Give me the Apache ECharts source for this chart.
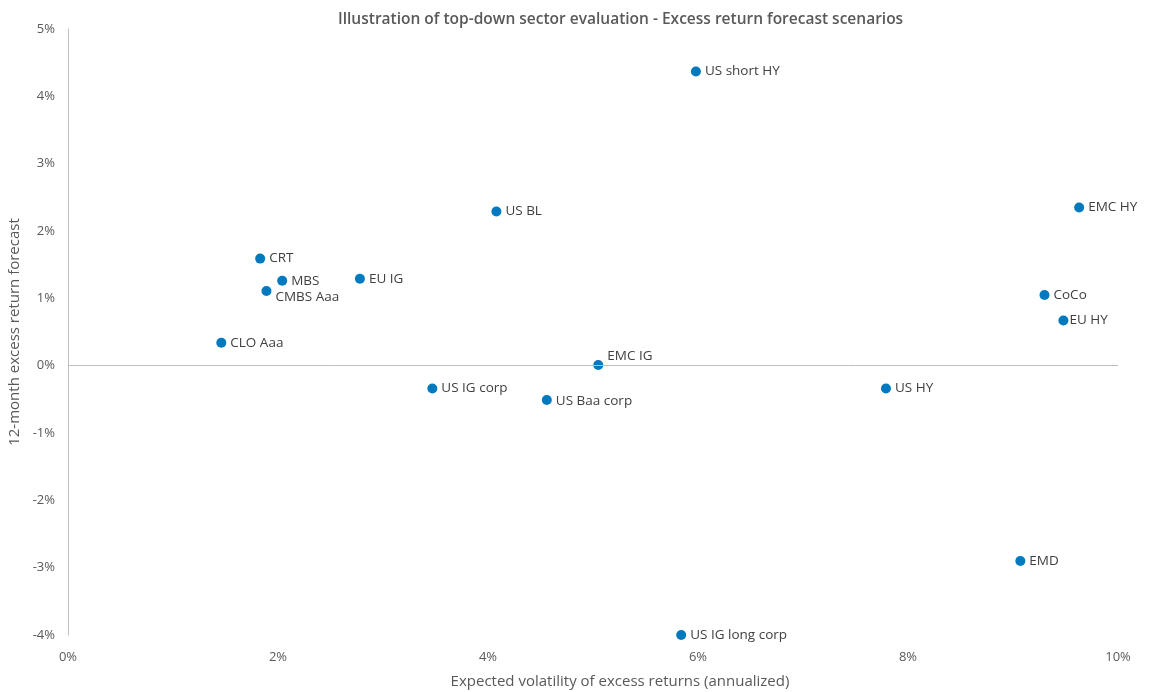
<!DOCTYPE html>
<html>
<head>
<meta charset="utf-8">
<script src="https://cdn.jsdelivr.net/npm/echarts@6/dist/echarts.min.js"></script>
<style>
  html, body { margin: 0; padding: 0; background: #fff; }
  #chart { width: 1160px; height: 692px; }
</style>
</head>
<body>
<div id="chart"></div>
<script>
// Sector names with expected volatility (x, %) and 12-month excess return forecast (y, %)
const sectors = ['US short HY', 'US BL', 'EMC HY', 'CRT', 'MBS', 'EU IG', 'CMBS Aaa', 'CoCo',
  'EU HY', 'CLO Aaa', 'EMC IG', 'US IG corp', 'US Baa corp', 'US HY', 'EMD', 'US IG long corp'];
const volatility = [5.98, 4.08, 9.63, 1.83, 2.04, 2.78, 1.89, 9.30,
  9.48, 1.46, 5.05, 3.47, 4.56, 7.79, 9.07, 5.84];
const excessReturn = [4.37, 2.29, 2.35, 1.59, 1.26, 1.29, 1.11, 1.05,
  0.67, 0.34, 0.01, -0.34, -0.51, -0.34, -2.90, -4.00];

// Label nudges for crowded points [dx, dy]
const labelOffsets = { 'CMBS Aaa': [0, 6], 'EMC IG': [0, -9], 'US Baa corp': [0, 1], 'EU HY': [-3, 0] };

const textColor = '#595959';
const font = '"Open Sans", sans-serif';

const points = sectors.map((name, i) => {
  const off = labelOffsets[name] || [0, 0];
  return {
    name: name,
    value: [volatility[i], excessReturn[i]],
    label: { offset: off }
  };
});

const chart = echarts.init(document.getElementById('chart'));
chart.setOption({
  animation: false,
  title: {
    text: 'Illustration of top-down sector evaluation - Excess return forecast scenarios',
    left: 333,
    top: 7,
    textStyle: { color: textColor, fontSize: 15.5, fontWeight: 600, fontFamily: font }
  },
  grid: { left: 68, right: 42, top: 29, bottom: 57, containLabel: false, outerBoundsMode: 'none' },
  xAxis: {
    type: 'value',
    min: 0, max: 10, interval: 2,
    name: 'Expected volatility of excess returns (annualized)',
    nameLocation: 'middle',
    nameGap: 39,
    nameTextStyle: { color: textColor, fontSize: 15, fontFamily: font, padding: [0, 0, 0, 54] },
    axisLine: { show: false },
    axisTick: { show: false },
    splitLine: { show: false },
    axisLabel: { color: textColor, fontSize: 13, fontFamily: font, margin: 16, formatter: v => v + '%' }
  },
  yAxis: {
    type: 'value',
    min: -4, max: 5, interval: 1,
    name: '12-month excess return forecast',
    nameLocation: 'middle',
    nameGap: 43,
    nameTextStyle: { color: textColor, fontSize: 15, fontFamily: font },
    axisLine: { show: true, onZero: false, lineStyle: { color: '#bfbfbf', width: 1 } },
    axisTick: { show: false },
    splitLine: { show: false },
    axisLabel: { color: textColor, fontSize: 13, fontFamily: font, margin: 13, formatter: v => v + '%' }
  },
  series: [{
    type: 'scatter',
    symbolSize: 10,
    itemStyle: { color: '#0079bf', opacity: 1 },
    label: {
      show: true,
      position: 'right',
      distance: 4,
      formatter: p => p.name,
      color: '#404040',
      fontSize: 13.5,
      fontFamily: font
    },
    data: points,
    markLine: {
      silent: true,
      symbol: ['none', 'none'],
      label: { show: false },
      lineStyle: { color: '#bfbfbf', width: 1, type: 'solid' },
      data: [{ yAxis: 0 }]
    },
    z: 3
  }]
});
</script>
</body>
</html>
